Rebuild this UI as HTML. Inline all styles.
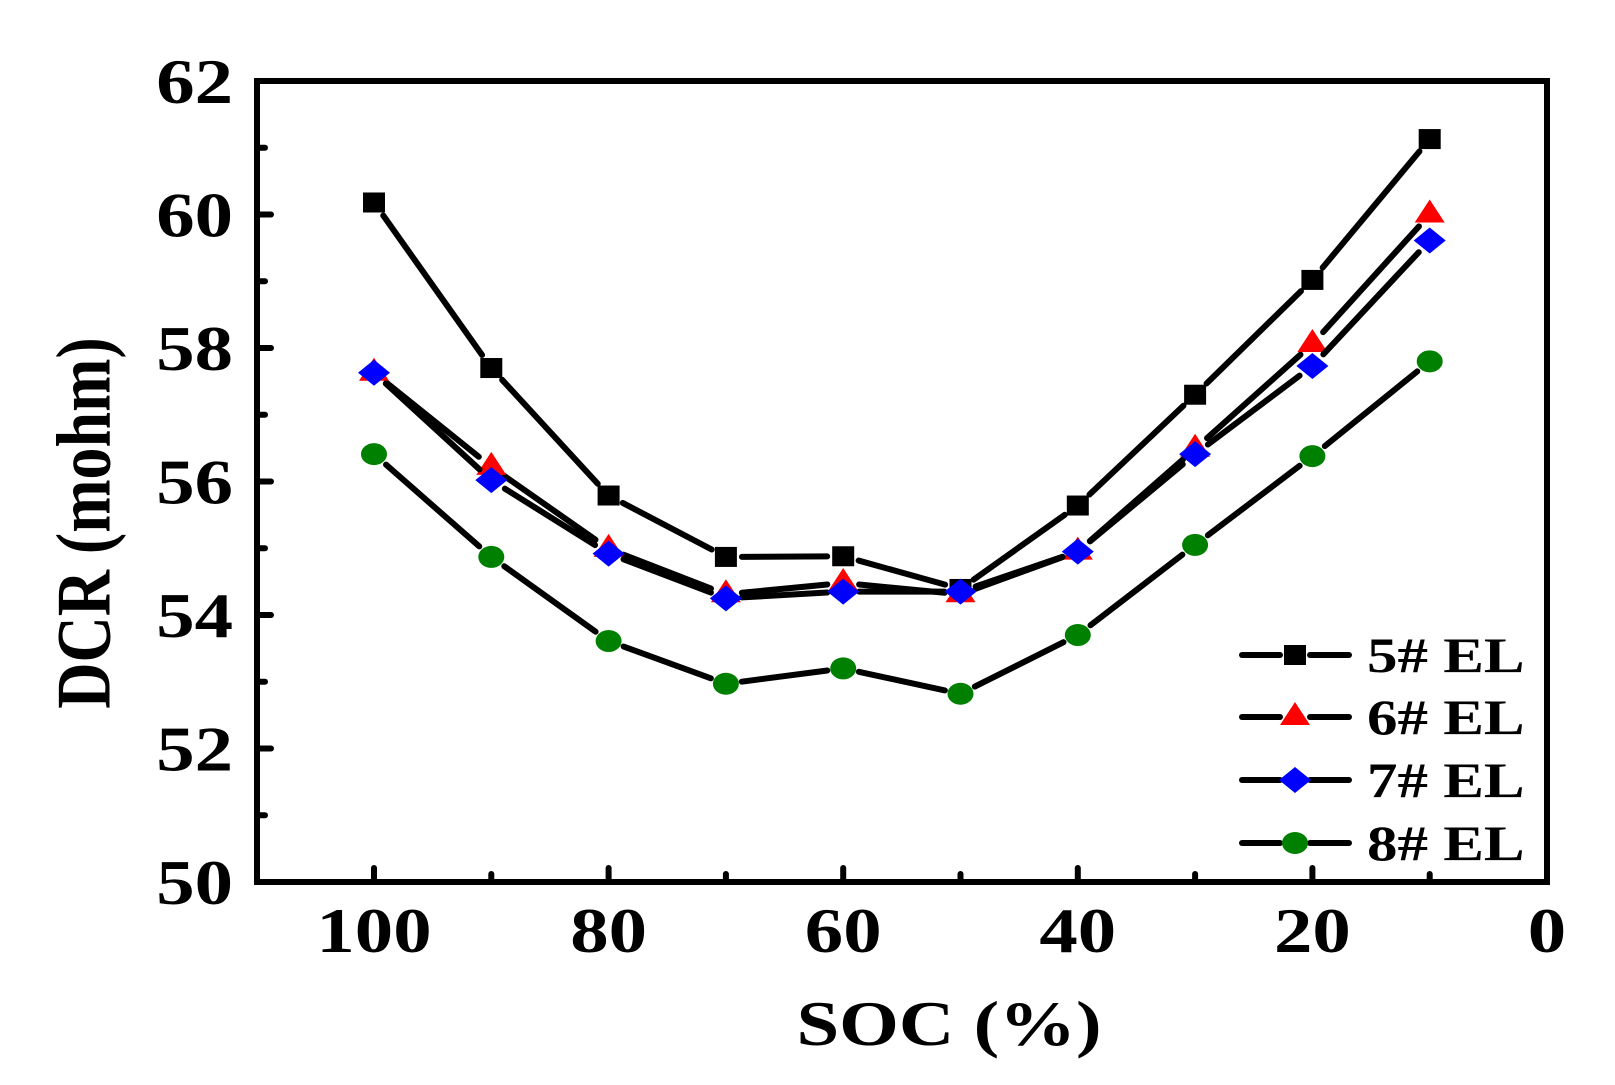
<!DOCTYPE html>
<html><head><meta charset="utf-8"><style>
html,body{margin:0;padding:0;background:#fff;}
svg{display:block;}
text{font-family:"Liberation Serif",serif;font-weight:bold;fill:#000;}
</style></head><body>
<svg id="s" width="1615" height="1085" xmlns="http://www.w3.org/2000/svg">
<rect x="257" y="81" width="1290" height="801" fill="none" stroke="#000" stroke-width="6"/>
<g id="ticks" stroke="#000" stroke-width="6" stroke-linecap="round"></g>
<g id="labels" font-size="64"></g>
<g id="series"></g>
<text transform="translate(949,1045) scale(1.2,1)" font-size="64" text-anchor="middle">SOC (%)</text>
<text transform="translate(83,523) rotate(-90) scale(1,1.2)" font-size="64" text-anchor="middle" dy="22">DCR (mohm)</text>
<g id="legend"></g>
</svg>
<script>
const NS="http://www.w3.org/2000/svg";
function el(p,t,a,txt){const e=document.createElementNS(NS,t);for(const k in a)e.setAttribute(k,a[k]);if(txt!==undefined)e.textContent=txt;p.appendChild(e);return e;}
const X=v=>1547-11.73*v, Y=v=>882-66.75*(v-50);
const tk=document.getElementById('ticks'),lb=document.getElementById('labels');
for(let v=50;v<=62;v++){const y=Y(v);const L=v%2==0?14:8;
 if(v>50&&v<62)el(tk,'line',{x1:257,y1:y,x2:257+L,y2:y});
 if(v%2==0)el(lb,'text',{transform:`translate(233,${y+22}) scale(1.2,1)`,'text-anchor':'end'},String(v));}
for(let v=0;v<=100;v+=10){const x=X(v);const L=v%20==0?14:8;
 if(v>0)el(tk,'line',{x1:x,y1:882,x2:x,y2:882-L});
 if(v%20==0)el(lb,'text',{transform:`translate(${x},952) scale(1.2,1)`,'text-anchor':'middle'},String(v));}
const xs=[100,90,80,70,60,50,40,30,20,10];
const data=[
 ['sq','#000',[60.18,57.70,55.79,54.87,54.88,54.39,55.64,57.30,59.02,61.13]],
 ['tri','#f00',[57.63,56.22,54.99,54.31,54.48,54.31,54.95,56.49,58.06,60.0]],
 ['dia','#00f',[57.63,56.02,54.92,54.25,54.35,54.35,54.95,56.41,57.73,59.61]],
 ['cir','#008000',[56.41,54.87,53.61,52.97,53.20,52.82,53.70,55.05,56.38,57.80]]];
const sg=document.getElementById('series');
function marker(g,t,c,x,y){
 if(t=='sq')el(g,'rect',{x:x-11,y:y-10,width:22,height:20,fill:c});
 if(t=='tri')el(g,'polygon',{points:`${x},${y-15} ${x+15},${y+8} ${x-15},${y+8}`,fill:c});
 if(t=='dia')el(g,'polygon',{points:`${x},${y-13} ${x+16},${y} ${x},${y+13} ${x-16},${y}`,fill:c});
 if(t=='cir')el(g,'ellipse',{cx:x,cy:y,rx:13,ry:11,fill:c});}
data.forEach(([t,c,vals])=>{
 const P=vals.map((v,i)=>[X(xs[i]),Y(v)]);
 for(let i=0;i<P.length-1;i++){const[a,b]=P[i],[d,e]=P[i+1];const dx=d-a,dy=e-b,l=Math.hypot(dx,dy),g=16;
  el(sg,'line',{x1:a+dx*g/l,y1:b+dy*g/l,x2:d-dx*g/l,y2:e-dy*g/l,stroke:'#000','stroke-width':6,'stroke-linecap':'round'});}
 P.forEach(([x,y])=>marker(sg,t,c,x,y));});
const lg=document.getElementById('legend');
const names=['5# EL','6# EL','7# EL','8# EL'],ly=[655,717,780,843];
data.forEach(([t,c],i)=>{const y=ly[i];
 el(lg,'line',{x1:1242,y1:y,x2:1280,y2:y,stroke:'#000','stroke-width':6,'stroke-linecap':'round'});
 el(lg,'line',{x1:1310,y1:y,x2:1349,y2:y,stroke:'#000','stroke-width':6,'stroke-linecap':'round'});
 marker(lg,t,c,1295,y);
 el(lg,'text',{transform:`translate(1367,${y+17}) scale(1.22,1)`,'font-size':50},names[i]);});
</script>
</body></html>
